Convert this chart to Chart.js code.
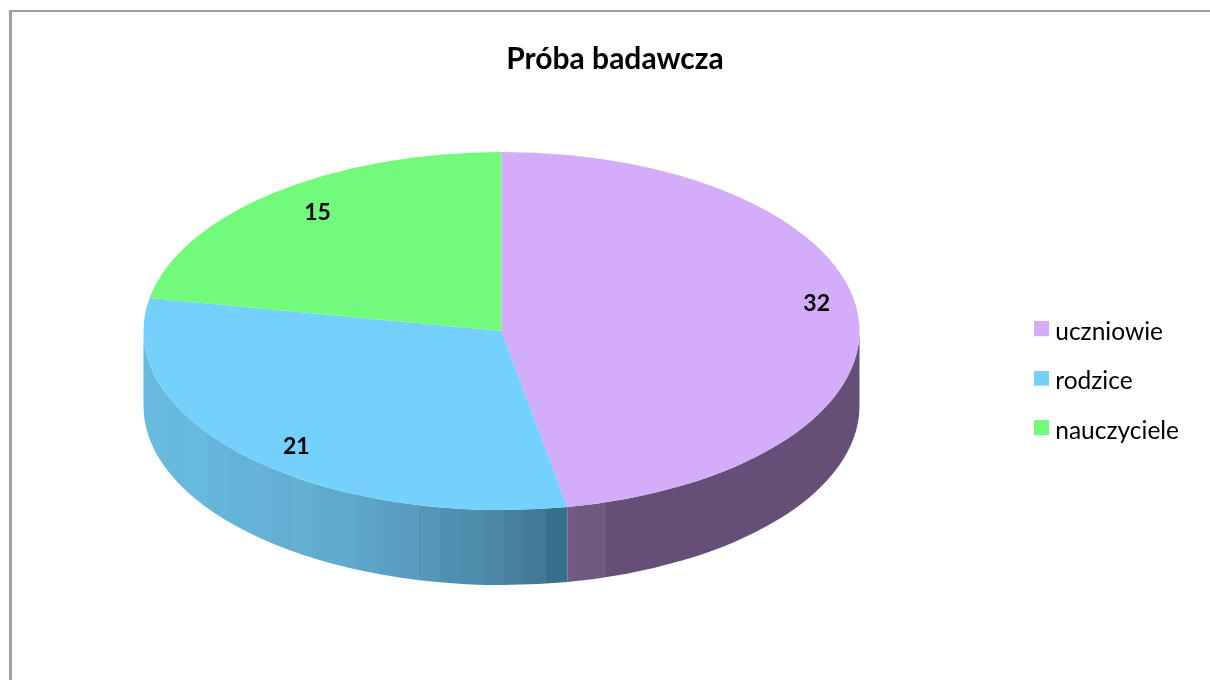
<!DOCTYPE html>
<html>
<head>
<meta charset="utf-8">
<title>Próba badawcza</title>
<script src="https://cdn.jsdelivr.net/npm/chart.js@4"></script>
<style>
  html, body { margin: 0; padding: 0; background: #fff; overflow: hidden; }
  #frame { position: absolute; left: 9px; top: 10px; width: 1300px; height: 800px; border-left: 3px solid #a0a0a0; border-top: 2px solid #a0a0a0; }
  #chart { position: absolute; left: 10px; top: 10px; }
</style>
</head>
<body>
<div id="frame"></div>
<canvas id="chart" width="1210" height="670"></canvas>
<script>
// Data
const categories = ['uczniowie', 'rodzice', 'nauczyciele'];
const values = [32, 21, 15];

const topColors = ['#D3ADFA', '#74D1FC', '#72FA7A'];
const swatchSize = 15;

// side wall bands, left to right, per slice
const sideBands = [
  ['#745A84', '#6F5980', '#6C5C7C', '#725880', '#654F76', '#654F76', '#654F76', '#654F76', '#654F76', '#654F76',
   '#654F76', '#654F76', '#654F76', '#654F76', '#654F76', '#654F76', '#654F76', '#654F76', '#654F76', '#654F76',
   '#654F76', '#654F76', '#654F76', '#654F76', '#654F76', '#654F76', '#654F76', '#654F76', '#654F76', '#654F76'],
  ['#68BADF', '#66B8DC', '#67B9DE', '#65B5DA', '#63B3D9', '#66B2D6', '#62AFD3', '#64AFD2', '#5EABCE', '#5FA9CC',
   '#5CA4C8', '#5AA0C4', '#5A9DC0', '#5597B9', '#4F91B3', '#4F8DAC', '#4B87A6', '#457F9E', '#40799A', '#366F8B'],
  []
];

const pieX = 491.5;       // pie centre on the canvas, the legend keeps it left of the middle
const squash = 2;         // pie is twice as wide as it is tall
const depth = 75;         // height of the side wall
const labelRadius = [0.895, 0.86, 0.84];
const labelShift = [-5.1, -3.2, 2];   // degrees off the slice middle
const fontFamily = 'Lato, "Open Sans", sans-serif';

// legend square, extra empty rows at the bottom lift it against the text
function swatch(color) {
  const c = document.createElement('canvas');
  c.width = swatchSize;
  c.height = swatchSize + 6;
  const g = c.getContext('2d');
  g.fillStyle = color;
  g.fillRect(0, 0, swatchSize, swatchSize);
  return c;
}

const pie3d = {
  id: 'pie3d',
  afterLayout(chart) {
    const legend = chart.legend;
    const pad = legend.options.labels.padding;
    legend.left = 1030 - pad;
    legend.right = chart.width;
    legend.top = 309.5 - pad;
    legend.bottom = chart.height;
  },
  beforeDatasetsDraw(chart) {
    const ctx = chart.ctx;
    chart.getDatasetMeta(0).data.forEach((arc, i) => {
      const a0 = Math.max(arc.startAngle, 0);
      const a1 = Math.min(arc.endAngle, Math.PI);
      if (a1 <= a0 || !sideBands[i].length) return;
      const rx = arc.outerRadius * squash;
      const ry = arc.outerRadius;
      const x0 = pieX + rx * Math.cos(a1);
      const x1 = pieX + rx * Math.cos(a0);
      const grad = ctx.createLinearGradient(x0, 0, x1, 0);
      const bands = sideBands[i];
      bands.forEach((c, k) => {
        grad.addColorStop(k / bands.length, c);
        grad.addColorStop((k + 1) / bands.length, c);
      });
      ctx.save();
      ctx.beginPath();
      ctx.ellipse(pieX, arc.y, rx, ry, 0, a0, a1);
      ctx.ellipse(pieX, arc.y + depth, rx, ry, 0, a1, a0, true);
      ctx.closePath();
      ctx.fillStyle = grad;
      ctx.fill();
      ctx.restore();
    });
  },
  beforeDatasetDraw(chart, args) {
    const arc = args.meta.data[0];
    const ctx = chart.ctx;
    ctx.save();
    ctx.translate(pieX, arc.y);
    ctx.scale(squash, 1);
    ctx.translate(-arc.x, -arc.y);
  },
  afterDatasetDraw(chart) {
    chart.ctx.restore();
  },
  afterDatasetsDraw(chart) {
    const ctx = chart.ctx;
    ctx.save();
    ctx.font = 'bold 23px ' + fontFamily;
    ctx.fillStyle = '#000';
    ctx.textAlign = 'center';
    ctx.textBaseline = 'middle';
    chart.getDatasetMeta(0).data.forEach((arc, i) => {
      const mid = (arc.startAngle + arc.endAngle) / 2 + labelShift[i] * Math.PI / 180;
      const r = arc.outerRadius * labelRadius[i];
      ctx.fillText(values[i], pieX + r * squash * Math.cos(mid), arc.y + 1 + r * Math.sin(mid));
    });
    ctx.restore();
  }
};

new Chart(document.getElementById('chart'), {
  type: 'pie',
  data: {
    labels: categories,
    datasets: [{
      data: values,
      backgroundColor: topColors,
      borderWidth: 0,
      clip: false
    }]
  },
  options: {
    responsive: false,
    animation: false,
    layout: { padding: { bottom: 170 } },
    plugins: {
      title: {
        display: true,
        text: 'Próba badawcza',
        color: '#000',
        font: { family: fontFamily, size: 30, weight: 'bold' },
        padding: { top: 31, bottom: 75 }
      },
      legend: {
        position: 'right',
        align: 'start',
        labels: {
          usePointStyle: true,
          pointStyleWidth: 3,
          padding: 25,
          color: '#000',
          font: { family: fontFamily, size: 24.5 },
          generateLabels(chart) {
            return Chart.overrides.pie.plugins.legend.labels.generateLabels(chart)
              .map((item, i) => ({ ...item, pointStyle: swatch(topColors[i]) }));
          }
        }
      },
      tooltip: { enabled: false }
    }
  },
  plugins: [pie3d]
});
</script>
</body>
</html>
